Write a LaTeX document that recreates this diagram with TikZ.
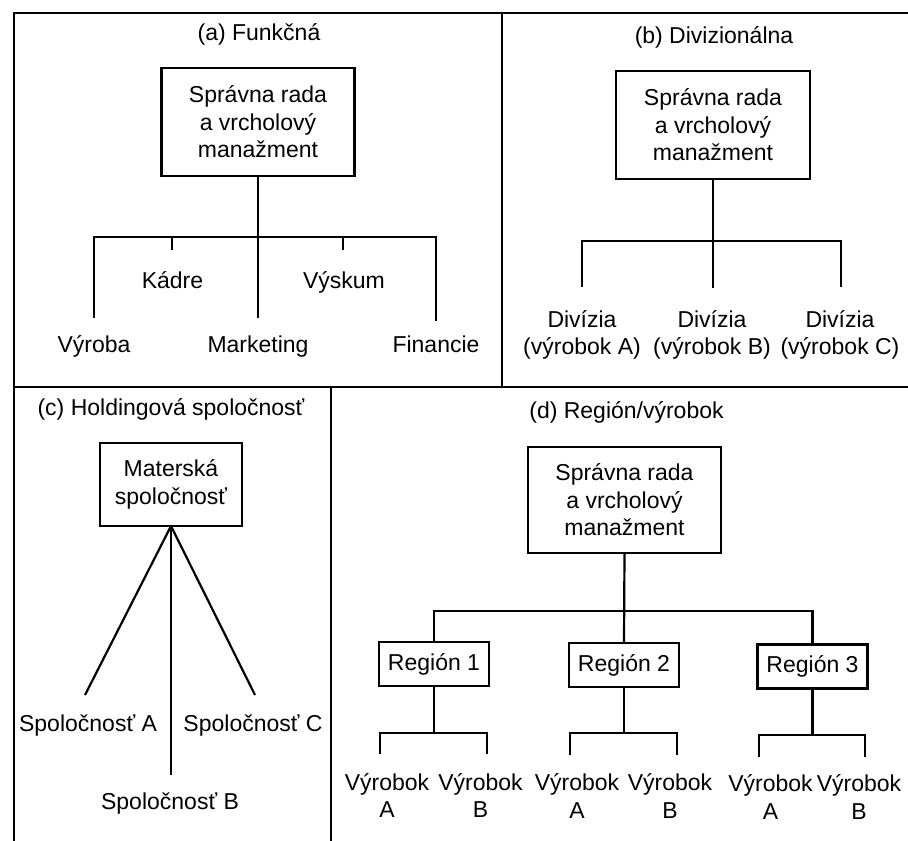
\documentclass[tikz,border=0pt]{standalone}
\usepackage{fontspec}
\setmainfont{Liberation Sans}
\begin{document}
\begin{tikzpicture}[x=1pt,y=-1pt,
  font=\fontsize{23}{27.5}\selectfont,
  every node/.style={inner sep=0pt, outer sep=0pt},
  frameline/.style={line width=2.6pt, line cap=rect},
  conn/.style={line width=2.2pt},
  box/.style={draw, line width=2.2pt, align=center},
  lbl/.style={align=center},
  ttl/.style={anchor=base},
]
\useasboundingbox (0,0) rectangle (908,841);

% ---------- frame ----------
\coordinate (f-tl) at (14,13);
\coordinate (f-tr) at (908,13);
\coordinate (f-bl) at (14,841);
\coordinate (f-ab-top) at (502,13);
\coordinate (f-ab-bot) at (502,387);
\coordinate (f-ml) at (14,387);
\coordinate (f-mr) at (908,387);
\coordinate (f-cd-top) at (331,387);
\coordinate (f-cd-bot) at (331,841);
\draw[frameline] (f-tr) -- (f-tl) -- (f-bl);
\draw[frameline] (f-ab-top) -- (f-ab-bot);
\draw[frameline] (f-ml) -- (f-mr);
\draw[frameline] (f-cd-top) -- (f-cd-bot);

% ---------- (a) ----------
\node[ttl] (ta) at (259,40) {(a) Funkčná};
\node[box, minimum width=193pt, minimum height=108pt] (ba) at (258,122)
  {Správna rada\\a vrcholový\\manažment};
\node[ttl] (kadre) at (172.5,288) {Kádre};
\node[ttl] (vyskum) at (344,288) {Výskum};
\node[ttl] (vyroba) at (94,352) {Výroba};
\node[ttl] (marketing) at (258,352) {Marketing};
\node[ttl] (financie) at (436,352) {Financie};
\coordinate (a-l) at (94,237);
\coordinate (a-r) at (436,237);
\coordinate (a-vy) at (94,318);
\coordinate (a-mk) at (258,318);
\coordinate (a-fi) at (436,321);
\coordinate (a-k1) at (172,237);
\coordinate (a-k2) at (172,250);
\coordinate (a-v1) at (343,237);
\coordinate (a-v2) at (343,250);
\draw[conn] (ba.south) -- (a-mk);
\draw[conn] (a-vy) -- (a-l) -- (a-r) -- (a-fi);
\draw[conn] (a-k1) -- (a-k2);
\draw[conn] (a-v1) -- (a-v2);

% ---------- (b) ----------
\node[ttl] (tb) at (714,43) {(b) Divizionálna};
\node[box, minimum width=194pt, minimum height=108pt] (bb) at (713,125)
  {Správna rada\\a vrcholový\\manažment};
\node[lbl] (da) at (582,335) {Divízia\\(výrobok A)};
\node[lbl] (db) at (712,335) {Divízia\\(výrobok B)};
\node[lbl] (dc) at (840,335) {Divízia\\(výrobok C)};
\coordinate (b-l) at (582,241);
\coordinate (b-r) at (841,241);
\coordinate (b-le) at (582,287);
\coordinate (b-me) at (713,288);
\coordinate (b-re) at (841,287);
\draw[conn] (bb.south) -- (b-me);
\draw[conn] (b-le) -- (b-l) -- (b-r) -- (b-re);

% ---------- (c) ----------
\node[ttl] (tc) at (171,415) {(c) Holdingová spoločnosť};
\node[box, minimum width=142pt, minimum height=83pt] (bc) at (171,484.5)
  {Materská\\spoločnosť};
\node[ttl] (sa) at (88,731) {Spoločnosť A};
\node[ttl] (sc) at (253,731) {Spoločnosť C};
\node[ttl] (sb) at (170,809) {Spoločnosť B};
\coordinate (c-a) at (85,695);
\coordinate (c-b) at (171,775);
\coordinate (c-c) at (255,695);
\draw[conn] (bc.south) -- (c-a);
\draw[conn] (bc.south) -- (c-b);
\draw[conn] (bc.south) -- (c-c);

% ---------- (d) ----------
\node[ttl] (td) at (626.5,418) {(d) Región/výrobok};
\node[box, minimum width=193pt, minimum height=106pt] (bd) at (624.5,500)
  {Správna rada\\a vrcholový\\manažment};
\node[box, minimum width=110pt, minimum height=44pt] (r1) at (434,664) {Región 1};
\node[box, minimum width=110pt, minimum height=44pt] (r2) at (624,665) {Región 2};
\node[box, minimum width=110pt, minimum height=44pt] (r3) at (812.5,666.5) {Región 3};
\coordinate (d-l) at (434,611);
\coordinate (d-r) at (812.5,611);
\draw[conn] (bd.south) -- (r2.north);
\draw[conn] (r1.north) -- (d-l) -- (d-r) -- (r3.north);

\node[lbl] (p1a) at (387,795.5) {Výrobok\\A};
\node[lbl] (p1b) at (480.5,795.5) {Výrobok\\B};
\node[lbl] (p2a) at (577,796) {Výrobok\\A};
\node[lbl] (p2b) at (670,796) {Výrobok\\B};
\node[lbl] (p3a) at (770.5,797) {Výrobok\\A};
\node[lbl] (p3b) at (859,797) {Výrobok\\B};

\coordinate (s1) at (434,733);
\coordinate (s1l) at (380,733);
\coordinate (s1r) at (487,733);
\coordinate (s1le) at (380,754);
\coordinate (s1re) at (487,754);
\draw[conn] (r1.south) -- (s1);
\draw[conn] (s1le) -- (s1l) -- (s1r) -- (s1re);

\coordinate (s2) at (624,733);
\coordinate (s2l) at (570,733);
\coordinate (s2r) at (677,733);
\coordinate (s2le) at (570,755);
\coordinate (s2re) at (677,755);
\draw[conn] (r2.south) -- (s2);
\draw[conn] (s2le) -- (s2l) -- (s2r) -- (s2re);

\coordinate (s3) at (812.5,735);
\coordinate (s3l) at (759,735);
\coordinate (s3r) at (865,735);
\coordinate (s3le) at (759,757);
\coordinate (s3re) at (865,757);
\draw[conn] (r3.south) -- (s3);
\draw[conn] (s3le) -- (s3l) -- (s3r) -- (s3re);
\end{tikzpicture}
\end{document}
